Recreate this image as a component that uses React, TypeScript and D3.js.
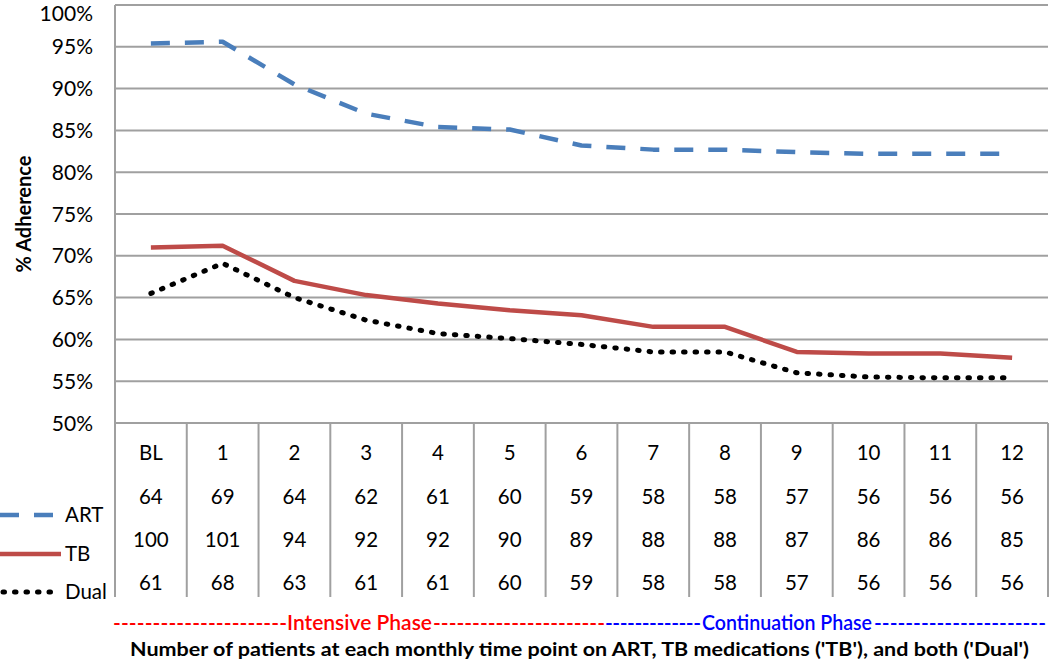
import React from "react";
import * as d3 from "d3";

const categories = ["BL", "1", "2", "3", "4", "5", "6", "7", "8", "9", "10", "11", "12"];
const artValues = [95.4, 95.6, 90.5, 87.0, 85.4, 85.1, 83.2, 82.7, 82.7, 82.4, 82.2, 82.2, 82.2];
const tbValues = [71.0, 71.2, 67.0, 65.3, 64.3, 63.5, 62.9, 61.5, 61.5, 58.5, 58.3, 58.3, 57.8];
const dualValues = [65.5, 69.1, 65.0, 62.3, 60.7, 60.1, 59.4, 58.5, 58.5, 56.0, 55.5, 55.4, 55.4];
const artCounts = [64, 69, 64, 62, 61, 60, 59, 58, 58, 57, 56, 56, 56];
const tbCounts = [100, 101, 94, 92, 92, 90, 89, 88, 88, 87, 86, 86, 85];
const dualCounts = [61, 68, 63, 61, 61, 60, 59, 58, 58, 57, 56, 56, 56];
const yTicks = [50, 55, 60, 65, 70, 75, 80, 85, 90, 95, 100];
const seriesNames = ["ART", "TB", "Dual"];

const FONT = "Lato, 'Open Sans', sans-serif";
const GRID = "#a0a0a0";

export default function App() {
  const left = 115, right = 1048, top = 5, bottom = 423;
  const x = d3.scaleBand<string>().domain(categories).range([left, right]);
  const bw = x.bandwidth();
  const cx = (c: string) => (x(c) as number) + bw / 2;
  const y = d3.scaleLinear().domain([50, 100]).range([bottom, top]);
  const line = d3.line<number>().x((_, i) => cx(categories[i])).y((v) => y(v));

  const tableBottom = 597;
  const rowY = [453, 497, 540, 583];
  const rows = [categories, artCounts.map(String), tbCounts.map(String), dualCounts.map(String)];
  const boundaries = categories.map((c) => x(c) as number).concat([right]);

  const styles = [
    { name: seriesNames[0], values: artValues, stroke: "#4a7ebb", width: 4.5, dash: "19 15", cap: "butt" },
    { name: seriesNames[1], values: tbValues, stroke: "#be4b48", width: 4.5, dash: "", cap: "butt" },
    { name: seriesNames[2], values: dualValues, stroke: "#000000", width: 5, dash: "1.5 10", cap: "round" },
  ];
  const legendY = [515, 554, 592];

  return (
    <svg width={1050} height={662} style={{ display: "block", position: "absolute", left: 0, top: 0 }}>
      <rect width={1050} height={662} fill="#fff" />
      {yTicks.map((t) => (
        <g key={t}>
          <line x1={left} x2={right} y1={y(t)} y2={y(t)} stroke={GRID} strokeWidth={2} />
          <text
            x={93}
            y={Math.max(y(t), 13)}
            dy="0.36em"
            textAnchor="end"
            fontFamily={FONT}
            fontSize={21}
            fill="#000"
          >
            {t}%
          </text>
        </g>
      ))}
      <line x1={left} x2={left} y1={top} y2={tableBottom} stroke={GRID} strokeWidth={2} />
      {boundaries.map((b, i) => (
        <line key={i} x1={b} x2={b} y1={bottom} y2={tableBottom} stroke={GRID} strokeWidth={2} />
      ))}
      <text
        transform={`translate(31,${214}) rotate(-90)`}
        textAnchor="middle"
        fontFamily={FONT}
        fontWeight="bold"
        fontSize={20}
        fill="#000"
      >
        % Adherence
      </text>
      {styles.map((s) => (
        <path
          key={s.name}
          d={line(s.values) as string}
          fill="none"
          stroke={s.stroke}
          strokeWidth={s.width}
          strokeDasharray={s.dash || undefined}
          strokeLinecap={s.cap as any}
          strokeLinejoin="round"
        />
      ))}
      {rows.map((r, ri) =>
        r.map((v, i) => (
          <text
            key={ri + "-" + i}
            x={cx(categories[i])}
            y={rowY[ri]}
            dy="0.36em"
            textAnchor="middle"
            fontFamily={FONT}
            fontSize={20.5}
            fill="#000"
          >
            {v}
          </text>
        ))
      )}
      {styles.map((s, i) => (
        <g key={"lg" + s.name}>
          <line
            x1={s.cap === "round" ? 3 : 0}
            x2={s.name === "TB" ? 61 : 55}
            y1={legendY[i]}
            y2={legendY[i]}
            stroke={s.stroke}
            strokeWidth={s.width}
            strokeDasharray={s.dash || undefined}
            strokeLinecap={s.cap as any}
          />
          <text x={65} y={legendY[i]} dy="0.36em" fontFamily={FONT} fontSize={20.5} fill="#000">
            {s.name}
          </text>
        </g>
      ))}
      <g fontFamily={FONT} fontSize={21} fontWeight={600}>
        <text x={113} y={622} dy="0.36em" fill="#ff0000" textLength={174} lengthAdjust="spacing">
          {"----------------------"}
        </text>
        <text x={287} y={622} dy="0.36em" fill="#ff0000" textLength={145} lengthAdjust="spacingAndGlyphs">
          Intensive Phase
        </text>
        <text x={433} y={622} dy="0.36em" fill="#ff0000" textLength={172} lengthAdjust="spacing">
          {"----------------------"}
        </text>
        <text x={605} y={622} dy="0.36em" fill="#0000ff" textLength={96} lengthAdjust="spacing">
          {"-------------"}
        </text>
        <text x={702} y={622} dy="0.36em" fill="#0000ff" textLength={170} lengthAdjust="spacingAndGlyphs">
          Continuation Phase
        </text>
        <text x={874} y={622} dy="0.36em" fill="#0000ff" textLength={172} lengthAdjust="spacing">
          {"----------------------"}
        </text>
      </g>
      <text
        x={130}
        y={649}
        dy="0.36em"
        fontFamily={FONT}
        fontWeight="bold"
        fontSize={19.5}
        fill="#000"
        textLength={899}
        lengthAdjust="spacingAndGlyphs"
      >
        Number of patients at each monthly time point on ART, TB medications ('TB'), and both ('Dual')
      </text>
    </svg>
  );
}
